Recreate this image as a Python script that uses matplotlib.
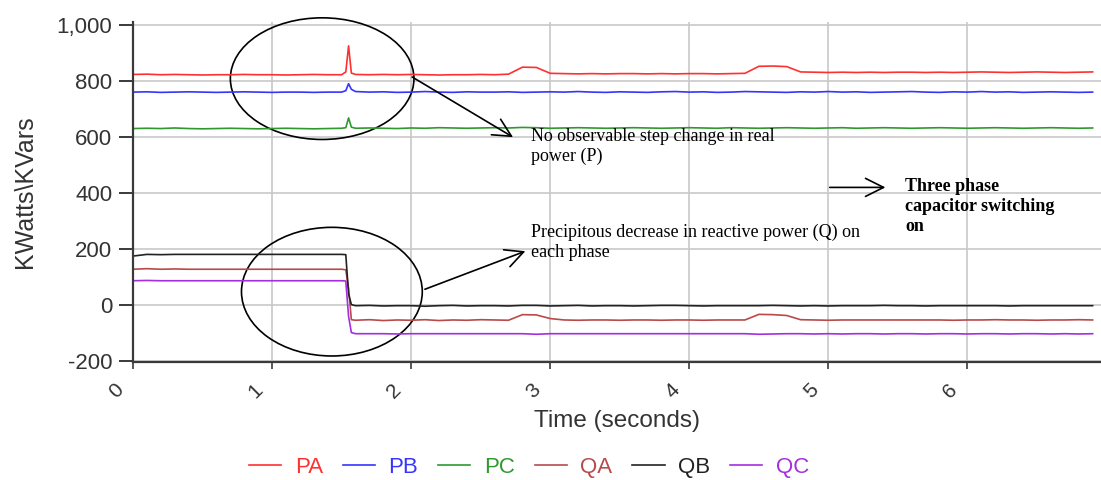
import matplotlib
matplotlib.use('Agg')
import matplotlib.pyplot as plt
import matplotlib.transforms as mtransforms
from matplotlib.patches import Ellipse
from matplotlib.ticker import FuncFormatter

# 時間軸（秒）
t = [0.0, 0.1, 0.2, 0.3, 0.4, 0.5, 0.6, 0.7, 0.8, 0.9, 1.0, 1.1, 1.2, 1.3, 1.4, 1.5,
     1.53, 1.55, 1.57,
     1.6, 1.7, 1.8, 1.9, 2.0, 2.1, 2.2, 2.3, 2.4, 2.5,
     2.6, 2.7, 2.8, 2.9, 3.0, 3.1, 3.2, 3.3, 3.4, 3.5,
     3.6, 3.7, 3.8, 3.9, 4.0, 4.1, 4.2, 4.3, 4.4, 4.5,
     4.6, 4.7, 4.8, 4.9, 5.0, 5.1, 5.2, 5.3, 5.4, 5.5,
     5.6, 5.7, 5.8, 5.9, 6.0, 6.1, 6.2, 6.3, 6.4, 6.5,
     6.6, 6.7, 6.8, 6.9]

# 有効電力（KW）
pa = [823, 824, 822, 823, 822, 821, 822, 822, 823, 822, 822, 821, 822, 823, 822, 822,
      832, 925, 828,
      823, 822, 823, 822, 823, 822, 821, 822, 822, 823,
      822, 824, 849, 848, 827, 826, 825, 826, 825, 826,
      826, 825, 826, 825, 826, 826, 825, 826, 827, 852,
      853, 851, 832, 831, 830, 831, 830, 831, 830, 831,
      831, 830, 831, 830, 831, 832, 831, 830, 831, 832,
      831, 830, 831, 832]
pb = [760, 761, 759, 760, 761, 760, 759, 760, 761, 760, 759, 760, 760, 759, 760, 760,
      765, 790, 770,
      762, 760, 761, 759, 760, 762, 760, 759, 761, 760,
      760, 761, 759, 760, 761, 760, 762, 760, 759, 761,
      760, 759, 761, 762, 760, 761, 759, 760, 762, 761,
      760, 759, 761, 760, 762, 760, 761, 759, 760, 761,
      762, 760, 759, 761, 760, 762, 760, 761, 759, 760,
      761, 760, 759, 760]
pc = [630, 631, 630, 632, 630, 629, 630, 631, 630, 629, 630, 631, 630, 629, 630, 631,
      633, 668, 635,
      631, 632, 631, 630, 632, 631, 633, 632, 631, 632,
      633, 632, 634, 633, 631, 632, 633, 632, 631, 632,
      633, 632, 631, 632, 633, 632, 631, 633, 632, 631,
      632, 633, 632, 631, 632, 633, 631, 632, 633, 632,
      631, 632, 633, 632, 631, 632, 633, 632, 631, 632,
      633, 632, 631, 632]

# 無効電力（KVar）
qa = [128, 130, 128, 129, 128, 128, 128, 128, 128, 128, 128, 128, 128, 128, 128, 128,
      126, 60, -52,
      -54, -52, -55, -53, -54, -52, -55, -53, -54, -52,
      -53, -54, -34, -35, -48, -53, -54, -53, -53, -54,
      -53, -53, -54, -53, -53, -54, -53, -53, -53, -33,
      -34, -37, -52, -53, -54, -53, -53, -53, -53, -53,
      -53, -53, -53, -54, -53, -53, -52, -53, -53, -54,
      -53, -53, -52, -53]
qb = [175, 181, 180, 181, 181, 181, 181, 181, 181, 181, 181, 181, 181, 181, 181, 181,
      180, 40, 2,
      -2, -1, -3, -2, -2, -4, -2, -1, -3, -2,
      -2, -3, -1, -1, -3, -2, -1, -3, -2, -2,
      -3, -2, -1, -1, -2, -3, -2, -2, -2, -2,
      -1, -2, -3, -2, -3, -2, -2, -2, -1, -2,
      -2, -3, -2, -2, -2, -2, -2, -3, -2, -2,
      -2, -2, -2, -2]
qc = [87, 88, 87, 87, 87, 87, 87, 87, 87, 87, 87, 87, 87, 87, 87, 87,
      86, -40, -98,
      -102, -102, -102, -103, -102, -102, -102, -102, -102, -102,
      -102, -102, -102, -104, -102, -102, -102, -102, -102, -102,
      -102, -102, -102, -102, -102, -102, -102, -102, -102, -104,
      -103, -102, -102, -103, -102, -103, -102, -102, -103, -102,
      -102, -103, -102, -102, -103, -102, -102, -103, -102, -102,
      -103, -102, -103, -102]

names = ['PA', 'PB', 'PC', 'QA', 'QB', 'QC']
colors = ['#ff3030', '#3535ff', '#2e9a2e', '#b84a4a', '#222222', '#a52ee0']
series = [pa, pb, pc, qa, qb, qc]

sans = ['Liberation Sans', 'DejaVu Sans']
serif = ['Liberation Serif', 'DejaVu Serif']

fig = plt.figure(figsize=(11.01, 4.8), dpi=100)
ax = fig.add_axes([0.1208, 0.2458, 0.8792, 0.7083])

for name, c, y in zip(names, colors, series):
    ax.plot(t, y, color=c, lw=1.2, label=name)

ax.set_xlim(0, 6.96)
ax.set_ylim(-203, 1010)
ax.set_xticks([0, 1, 2, 3, 4, 5, 6])
ax.set_yticks([-200, 0, 200, 400, 600, 800, 1000])
ax.yaxis.set_major_formatter(FuncFormatter(lambda v, p: f'{int(v):,}'))
ax.grid(True, color='#c8c8c8', lw=1.2)
ax.set_axisbelow(True)
for s in ['top', 'right']:
    ax.spines[s].set_visible(False)
for s in ['left', 'bottom']:
    ax.spines[s].set_color('#3a3a3a')
    ax.spines[s].set_linewidth(1.6)
ax.tick_params(axis='y', length=10, width=1.4, color='#3a3a3a', labelsize=16,
               labelcolor='#333333', pad=5)
ax.tick_params(axis='x', length=5, width=1.2, color='#3a3a3a', labelsize=15,
               labelcolor='#333333', pad=8)
for lab in ax.get_yticklabels():
    lab.set_family(sans)
# x目盛ラベルは45度回転、目盛の左下に配置
shift = mtransforms.ScaledTranslation(-6 / 100, 0, fig.dpi_scale_trans)
for lab in ax.get_xticklabels():
    lab.set_family(sans)
    lab.set_rotation(45)
    lab.set_ha('right')
    lab.set_va('top')
    lab.set_transform(lab.get_transform() + shift)

ax.set_xlabel('Time (seconds)', family=sans, fontsize=17.5, color='#333333', labelpad=6)
ax.set_ylabel('KWatts\\KVars', family=sans, fontsize=18, color='#333333', labelpad=14)

# 楕円（注目箇所）
ax.add_patch(Ellipse((1.36, 808), 1.32, 434, fill=False, ec='black', lw=1.2, clip_on=False))
ax.add_patch(Ellipse((1.43, 48), 1.30, 459, fill=False, ec='black', lw=1.2, clip_on=False))

arrow = dict(arrowstyle='->, head_length=0.5, head_width=0.25', color='black', lw=1.2,
             mutation_scale=26)
ax.annotate('', xy=(2.75, 594), xytext=(1.99, 819), arrowprops=arrow)
ax.annotate('', xy=(2.84, 196), xytext=(2.08, 53), arrowprops=arrow)
ax.annotate('', xy=(5.43, 420), xytext=(4.99, 420), arrowprops=arrow)

ax.text(2.86, 566, 'No observable step change in real\npower (P)', family=serif,
        fontsize=13, va='center', ha='left', linespacing=1.25)
ax.text(2.86, 224, 'Precipitous decrease in reactive power (Q) on\neach phase', family=serif,
        fontsize=13, va='center', ha='left', linespacing=1.25)
ax.text(5.55, 352, 'Three phase\ncapacitor switching\non', family=serif,
        fontsize=13, fontweight='bold', va='center', ha='left', linespacing=1.25)

leg = fig.legend(loc='center', bbox_to_anchor=(0.4805, 0.027), ncol=6, frameon=False,
                 handlelength=1.45, columnspacing=0.9, handletextpad=0.6,
                 prop={'family': sans, 'size': 16})
for txt, c in zip(leg.get_texts(), colors):
    txt.set_color(c)

fig.savefig('out.png', dpi=100)
